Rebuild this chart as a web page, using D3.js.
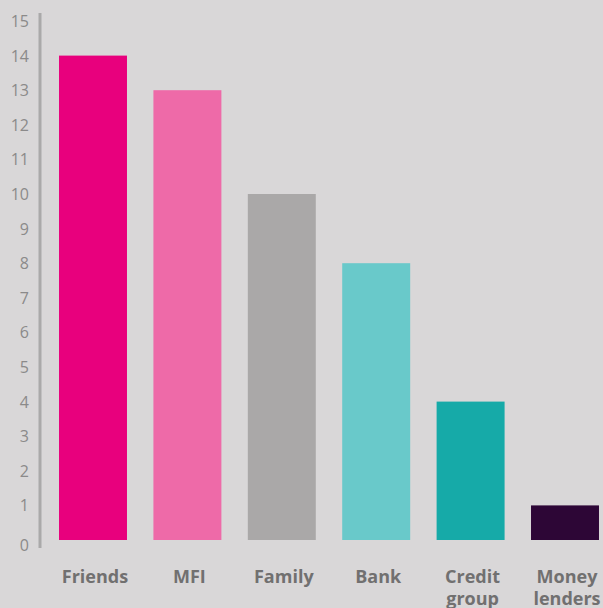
<!DOCTYPE html>
<html lang="en">
<head>
<meta charset="utf-8">
<title>Sources of loans</title>
<script src="https://d3js.org/d3.v7.min.js"></script>
<style>
  body { margin: 0; background: #d9d7d8; }
</style>
</head>
<body>
<script>
// data
var categories = ["Friends", "MFI", "Family", "Bank", "Credit group", "Money lenders"];
var values = [14, 13, 10, 8, 4, 1];
var colors = ["#e8007d", "#ee6aa8", "#aaa8a8", "#69c9ca", "#16aaa8", "#2d0636"];
var tickValues = [0, 1, 2, 3, 4, 5, 6, 7, 8, 9, 10, 11, 12, 13, 14, 15];

var w = 603, h = 608;

var svg = d3.select("body").append("svg").attr("width", w).attr("height", h);
svg.append("rect").attr("width", w).attr("height", h).attr("fill", "#d9d7d8");

// scales
var x = d3.scaleBand().domain(categories).range([45.8, 612.2]).paddingInner(0.28).paddingOuter(0.14);
var y = d3.scaleLinear().domain([0, 15]).range([540, 21]);

// y axis line
svg.append("line")
  .attr("x1", 40).attr("x2", 40)
  .attr("y1", 13).attr("y2", 548)
  .attr("stroke", "#aaa9a9").attr("stroke-width", 3);

// y tick labels
svg.append("g").selectAll("text")
  .data(tickValues)
  .enter().append("text")
  .attr("x", 29)
  .attr("y", function(d) { return y(d) + 6 + (d === 0 ? 5 : 0); })
  .attr("text-anchor", "end")
  .attr("font-family", "Open Sans, sans-serif")
  .attr("font-size", "16px")
  .attr("fill", "#8b8a8a")
  .text(function(d) { return d; });

// bars
svg.append("g").selectAll("rect")
  .data(values)
  .enter().append("rect")
  .attr("x", function(d, i) { return x(categories[i]); })
  .attr("y", function(d) { return y(d); })
  .attr("width", x.bandwidth())
  .attr("height", function(d) { return y(0) - y(d); })
  .attr("fill", function(d, i) { return colors[i]; });

// category labels
var labels = svg.append("g").selectAll("text")
  .data(categories)
  .enter().append("text")
  .attr("text-anchor", "middle")
  .attr("font-family", "Open Sans, sans-serif")
  .attr("font-weight", "bold")
  .attr("font-size", "18px")
  .attr("fill", "#717070");

labels.each(function(d) {
  var words = d.split(" ");
  var cx = x(d) + x.bandwidth() / 2 + 2;
  var t = d3.select(this);
  words.forEach(function(wd, j) {
    t.append("tspan").attr("x", cx).attr("y", 583 + j * 22).text(wd);
  });
});
</script>
</body>
</html>
